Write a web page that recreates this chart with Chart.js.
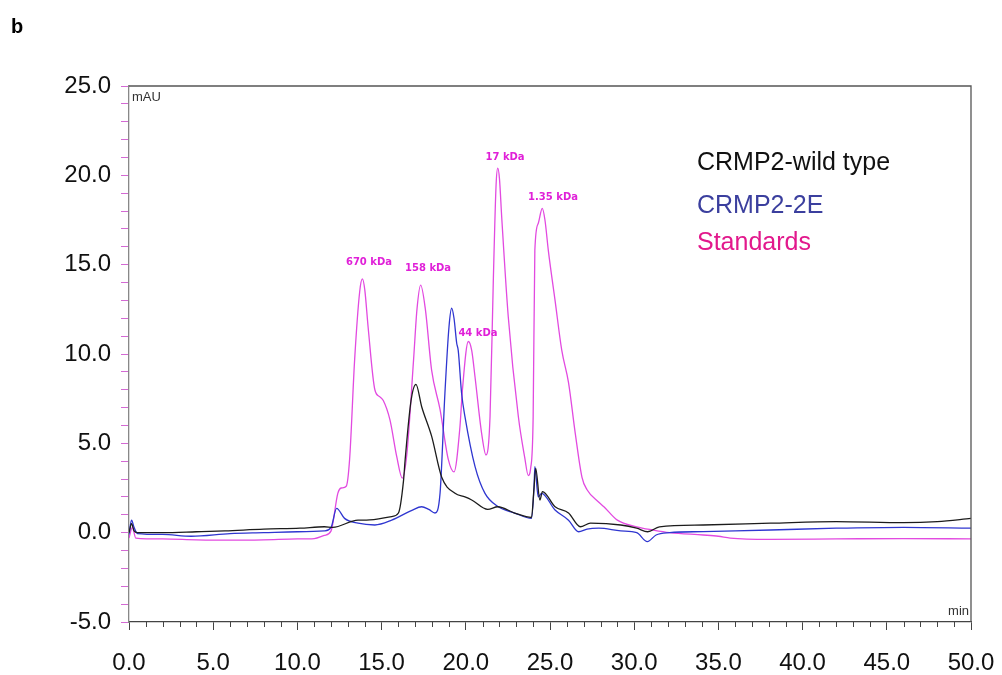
<!DOCTYPE html>
<html>
<head>
<meta charset="utf-8">
<script src="https://cdn.jsdelivr.net/npm/chart.js@4/dist/chart.umd.min.js"></script>
<style>
  html,body{margin:0;padding:0;background:#fff;}
  #wrap{width:1002px;height:675px;position:relative;}
</style>
</head>
<body>
<div id="wrap"><canvas id="c" width="1002" height="675"></canvas></div>
<script>
// ---- Data (retention time in min, absorbance in mAU) ----
const stdTime = [0,0.2,0.4,2,4,6,8,10,11,11.6,12.0,12.4,12.6,12.9,13.1,13.4,13.7,13.86,14.0,14.2,14.6,14.9,15.1,15.5,15.9,16.23,16.5,16.9,17.1,17.32,17.6,17.97,18.47,18.96,19.3,19.65,19.8,20.15,20.35,20.55,20.94,21.2,21.44,21.63,21.8,21.9,22.0,22.13,22.52,23.12,23.5,23.71,23.85,24.0,24.1,24.3,24.54,24.7,24.9,25.3,25.7,26.1,26.5,26.9,27.2,27.9,28.2,29.0,30.15,31.1,32.1,34.1,35.0,35.7,38,42,46,50];
const stdValues = [-0.3,0.3,-0.3,-0.35,-0.4,-0.42,-0.4,-0.35,-0.33,-0.15,0.1,2.2,2.5,2.6,4.1,9.7,13.5,14.2,13.6,11.5,8.0,7.6,7.4,6.3,4.25,3.05,4.4,9.7,12.5,13.86,12.5,9.1,6.9,4.1,3.4,5.9,8.0,10.7,10.2,8.7,5.56,4.35,6.5,13.96,19.5,20.4,19.8,17.7,12.1,6.5,4.2,3.2,3.6,6.5,15.8,17.3,18.15,17.5,15.8,13.0,10.2,8.4,5.56,3.1,2.4,1.7,1.45,0.7,0.33,0.15,0.0,-0.13,-0.2,-0.3,-0.37,-0.35,-0.33,-0.35];

const e2Time = [0,0.15,0.3,0.5,2,3.7,6,8,10,11.6,12.0,12.33,12.8,13.6,14.6,15.6,16.8,17.38,17.8,18.17,18.47,18.76,19.0,19.16,19.3,19.46,19.55,19.75,19.95,20.55,21.14,21.93,22.9,23.9,24.05,24.1,24.3,24.5,25.3,26.1,26.7,27.2,27.9,29.2,30.15,30.78,31.3,32.1,34.1,38.1,42,46,50];
const e2Values = [-0.1,0.7,0.3,-0.05,-0.1,-0.2,-0.05,0,0.05,0.1,0.3,1.36,0.8,0.53,0.43,0.7,1.25,1.45,1.3,1.1,2.2,7.8,11.5,12.56,12.0,10.6,10.2,7.8,6.5,3.7,2.2,1.45,1.1,0.8,2.5,3.7,2.0,2.2,1.27,0.7,0.05,0.2,0.25,0.1,0.0,-0.5,-0.13,0.0,0.06,0.15,0.25,0.3,0.25];

const wtTime = [0,0.15,0.3,0.5,2,4,5.7,8,10.15,11.6,12.1,13.6,14.1,15.6,16.0,16.3,16.4,16.75,17.04,17.38,17.97,18.57,19.36,19.95,20.35,21.3,21.9,22.9,23.9,24.05,24.15,24.4,24.55,25.3,26.1,26.8,27.4,29.2,30.15,30.8,31.5,34.1,38.1,42,46,48,50];
const wtValues = [0.0,0.5,0.1,0.0,0.0,0.05,0.1,0.2,0.25,0.33,0.3,0.7,0.7,0.9,1.1,2.9,4.1,7.4,8.3,7.05,5.4,3.1,2.2,2.0,1.83,1.3,1.45,1.1,0.85,2.5,3.6,1.83,2.3,1.45,1.1,0.33,0.53,0.43,0.25,0.05,0.33,0.43,0.53,0.62,0.56,0.62,0.8];

const seriesNames = ["CRMP2-wild type","CRMP2-2E","Standards"];
const peakLabels = ["670 kDa","158 kDa","44 kDa","17 kDa","1.35 kDa"];
const peakLabelTime = [14.25,17.76,20.72,22.33,25.18];
const peakLabelValue = [15.15,14.81,11.18,20.98,18.79];

const xMin = 0, xMax = 50, yMin = -5, yMax = 25;

// ---- Styles ----
const colWT = '#1c1c1c', colE2 = '#2f36d0', colStd = '#e24ae0';
const legendColors = ['#111111','#3b3f9e','#e2188c'];

function pts(t, v){ return t.map((x,i)=>({x:x, y:v[i]})); }

const framePlugin = {
  id:'frame',
  afterDraw(chart){
    const ctx = chart.ctx, a = chart.chartArea;
    const xs = chart.scales.x, ys = chart.scales.y;
    ctx.save();
    // top & right frame
    ctx.strokeStyle = '#555'; ctx.lineWidth = 1.3;
    ctx.beginPath();
    ctx.moveTo(a.left, a.top); ctx.lineTo(a.right, a.top); ctx.lineTo(a.right, a.bottom);
    ctx.stroke();
    // minor x ticks
    ctx.strokeStyle = '#444'; ctx.lineWidth = 1;
    for (let v = xMin; v <= xMax; v += 1) {
      if (v % 5 === 0) continue;
      const px = Math.round(xs.getPixelForValue(v)) + 0.5;
      ctx.beginPath(); ctx.moveTo(px, a.bottom); ctx.lineTo(px, a.bottom + 5); ctx.stroke();
    }
    // unit labels
    ctx.fillStyle = '#333';
    ctx.font = '13px "Liberation Sans", Arial, sans-serif';
    ctx.textBaseline = 'middle';
    ctx.textAlign = 'left';
    ctx.fillText('mAU', a.left + 3, a.top + 11);
    ctx.textAlign = 'right';
    ctx.fillText('min', a.right - 2, a.bottom - 11);
    // panel letter
    ctx.fillStyle = '#000';
    ctx.font = 'bold 20px "Liberation Sans", Arial, sans-serif';
    ctx.textAlign = 'left';
    ctx.fillText('b', 11, 27);
    // legend text
    ctx.font = '25px "Liberation Sans", Arial, sans-serif';
    const ly = [163, 206, 243];
    seriesNames.forEach((n,i)=>{
      ctx.fillStyle = legendColors[i];
      ctx.fillText(n, 697, ly[i]);
    });
    // peak labels
    ctx.fillStyle = '#e020d8';
    ctx.font = 'bold 10px "DejaVu Sans", sans-serif';
    ctx.textAlign = 'center';
    peakLabels.forEach((t,i)=>{
      ctx.fillText(t, xs.getPixelForValue(peakLabelTime[i]), ys.getPixelForValue(peakLabelValue[i]));
    });
    ctx.restore();
  }
};

const tickFont = {family:'"Liberation Sans", Arial, sans-serif', size:24};

new Chart(document.getElementById('c'), {
  type:'line',
  data:{
    datasets:[
      {label:seriesNames[0], data:pts(wtTime, wtValues), borderColor:colWT, borderWidth:1.3, pointRadius:0, cubicInterpolationMode:'monotone', order:0},
      {label:seriesNames[1], data:pts(e2Time, e2Values), borderColor:colE2, borderWidth:1.3, pointRadius:0, cubicInterpolationMode:'monotone', order:1},
      {label:seriesNames[2], data:pts(stdTime, stdValues), borderColor:colStd, borderWidth:1.3, pointRadius:0, cubicInterpolationMode:'monotone', order:2}
    ]
  },
  options:{
    responsive:false,
    animation:false,
    layout:{padding:{top:86, right:31, left:0, bottom:0}},
    plugins:{legend:{display:false}, tooltip:{enabled:false}},
    scales:{
      x:{
        type:'linear', min:xMin, max:xMax,
        afterFit(s){ s.height = 53; s.paddingRight = 0; },
        grid:{drawOnChartArea:false, drawTicks:true, tickLength:8,
              tickColor:(c)=> (c.tick && c.tick.value % 5 === 0) ? '#444' : 'rgba(0,0,0,0)'},
        border:{color:'#444', width:1.3},
        ticks:{stepSize:1, autoSkip:false, maxRotation:0, minRotation:0, padding:19, color:'#111', font:tickFont,
               callback:(v)=> (v % 5 === 0) ? Number(v).toFixed(1) : ''}
      },
      y:{
        type:'linear', min:yMin, max:yMax,
        afterFit(s){ s.width = 129; },
        grid:{drawOnChartArea:false, drawTicks:true, tickLength:8, tickColor:'#d46ad4'},
        border:{color:'#888', width:1.3},
        ticks:{stepSize:1, autoSkip:false, padding:10, color:'#111', font:tickFont,
               callback:(v)=> (v % 5 === 0) ? Number(v).toFixed(1) : ''}
      }
    }
  },
  plugins:[framePlugin]
});
</script>
</body>
</html>
